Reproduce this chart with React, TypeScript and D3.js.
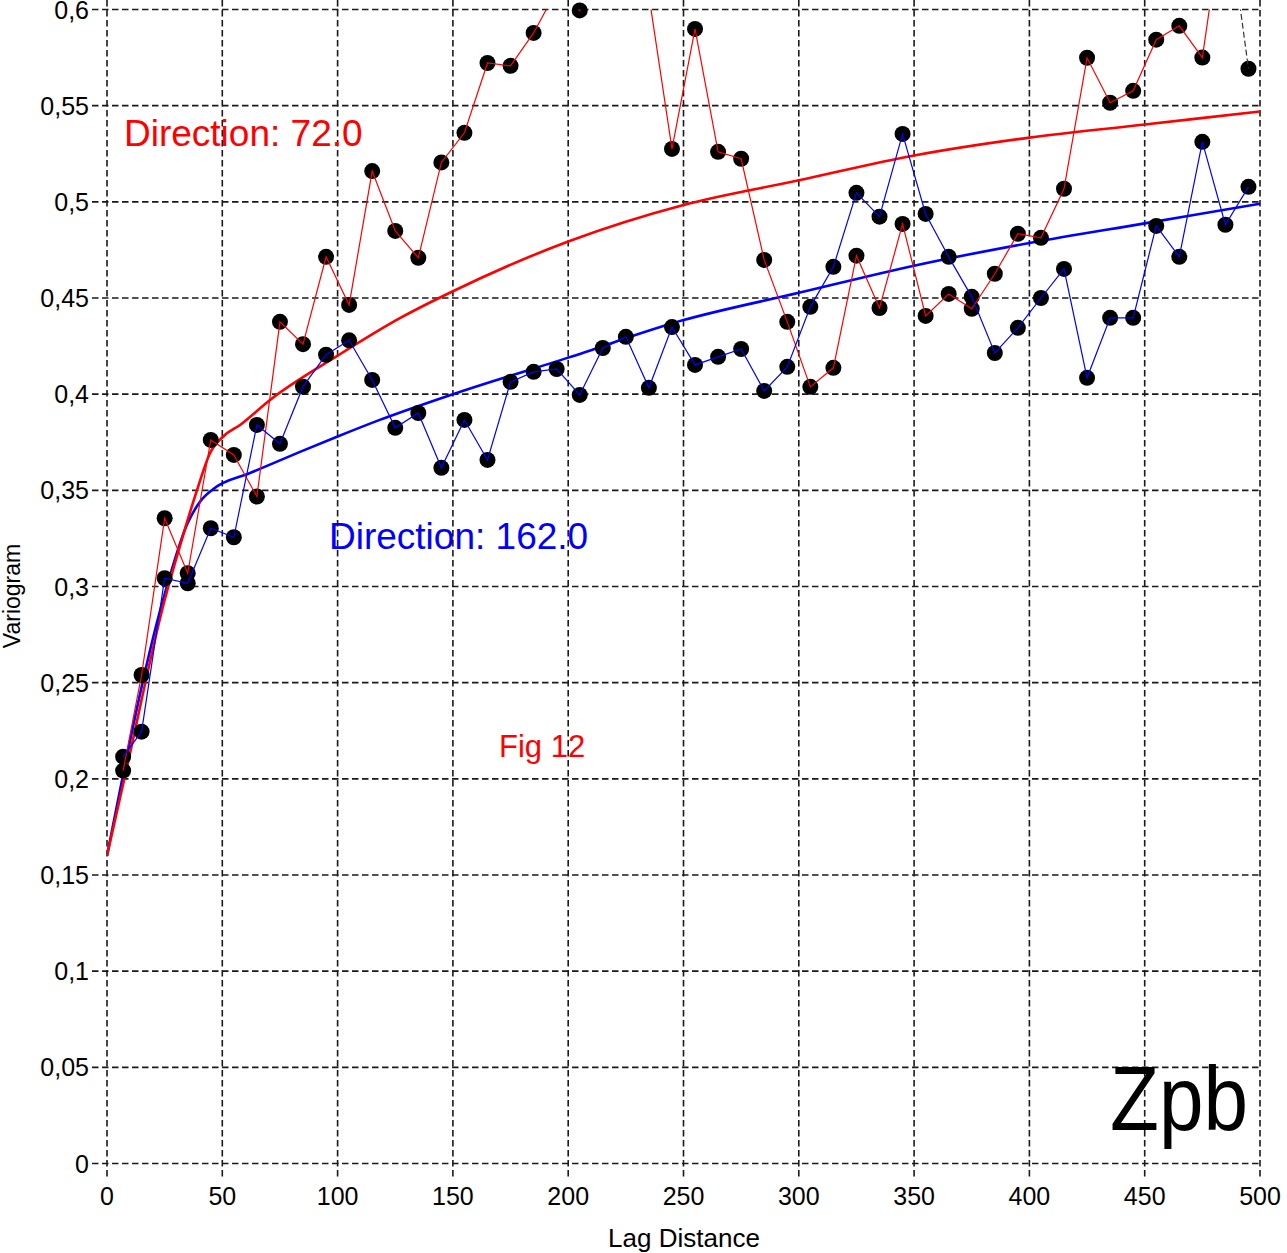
import React from "react";
import * as d3 from "d3";

const lags = [7, 15, 25, 35, 45, 55, 65, 75, 85, 95, 105, 115, 125, 135, 145, 155, 165, 175, 185, 195,
  205, 215, 225, 235, 245, 255, 265, 275, 285, 295, 305, 315, 325, 335, 345, 355, 365, 375, 385, 395,
  405, 415, 425, 435, 445, 455, 465, 475, 485, 495];

const dir72 = [0.2043, 0.254, 0.3355, 0.3069, 0.3762, 0.3684, 0.3468, 0.4376, 0.426, 0.4714,
  0.4464, 0.516, 0.4849, 0.4709, 0.5205, 0.5359, 0.5722, 0.5707, 0.5878, 0.61,
  0.5995, 0.63, 0.625, 0.6073, 0.5275, 0.5899, 0.526, 0.5224, 0.4698, 0.4376,
  0.4038, 0.4137, 0.472, 0.4448, 0.4885, 0.4407, 0.4521, 0.4444, 0.4626, 0.4834,
  0.4813, 0.5068, 0.5749, 0.5515, 0.5577, 0.5843, 0.5915, 0.575, 0.658, 0.5692];

const dir162 = [0.2115, 0.2245, 0.3043, 0.3017, 0.3303, 0.3256, 0.384, 0.3742, 0.4039, 0.4205,
  0.428, 0.4074, 0.3825, 0.3902, 0.3617, 0.3866, 0.3658, 0.4064, 0.4116, 0.4131,
  0.3996, 0.424, 0.4298, 0.4033, 0.4349, 0.4152, 0.4194, 0.4235, 0.4017, 0.4142,
  0.4454, 0.4662, 0.5047, 0.4923, 0.5353, 0.4937, 0.4714, 0.4506, 0.4214, 0.4345,
  0.45, 0.4651, 0.4085, 0.4397, 0.4397, 0.4875, 0.4714, 0.5312, 0.4881, 0.5078];

// model curves
const model72Lag = [0, 8, 25, 32, 39, 44.7, 50.4, 57.7, 70.7, 100, 127, 150, 200, 250, 300, 350, 400, 450, 500];
const model72Val = [0.16, 0.2026, 0.293, 0.3226, 0.35, 0.3694, 0.378, 0.384, 0.397, 0.42, 0.4395, 0.4535, 0.4794, 0.4984, 0.5112, 0.5241, 0.5334, 0.5402, 0.547];
const model162Lag = [0, 24.3, 35, 40.3, 46, 62, 83.7, 100, 118, 150, 200, 250, 300, 350, 400, 450, 500];
const model162Val = [0.16, 0.293, 0.333, 0.344, 0.3506, 0.359, 0.37, 0.378, 0.3865, 0.4, 0.419, 0.4385, 0.4527, 0.4668, 0.4786, 0.4888, 0.499];

const xTicks = [0, 50, 100, 150, 200, 250, 300, 350, 400, 450, 500];
const yTicks = [0, 0.05, 0.1, 0.15, 0.2, 0.25, 0.3, 0.35, 0.4, 0.45, 0.5, 0.55, 0.6];

const FONT = "'Liberation Sans', Arial, sans-serif";

export default function App() {
  const x = d3.scaleLinear().domain([0, 500]).range([107, 1260]);
  const y = d3.scaleLinear().domain([0, 0.6]).range([1163.5, 9.5]);

  const line = d3.line<[number, number]>().x(d => x(d[0])).y(d => y(d[1]));
  const curve = d3.line<[number, number]>().x(d => x(d[0])).y(d => y(d[1])).curve(d3.curveMonotoneX);

  const red: [number, number][] = lags.map((l, i) => [l, dir72[i]]);
  const blue: [number, number][] = lags.map((l, i) => [l, dir162[i]]);
  const redMain = red.slice(0, red.length - 1);
  const redLast = red.slice(red.length - 2);
  const m72: [number, number][] = model72Lag.map((l, i) => [l, model72Val[i]]);
  const m162: [number, number][] = model162Lag.map((l, i) => [l, model162Val[i]]);

  const fmt = (v: number) => String(+v.toFixed(2)).replace(".", ",");
  const grid = { stroke: "#1a1a1a", strokeWidth: 1.6, strokeDasharray: "6.5,3.5" };

  return (
    <svg width={1287} height={1253} style={{ position: "absolute", left: 0, top: 0, background: "#fff" }} fontFamily={FONT}>
      <defs>
        <clipPath id="plot">
          <rect x={107} y={9.5} width={1153} height={1154} />
        </clipPath>
      </defs>
      {yTicks.map(t => (
        <g key={"y" + t}>
          <line x1={92} x2={1260} y1={y(t)} y2={y(t)} {...grid} />
          <text x={89} y={y(t)} textAnchor="end" dominantBaseline="central" fontSize={25} fill="#000">{fmt(t)}</text>
        </g>
      ))}
      {xTicks.map(t => (
        <g key={"x" + t}>
          <line x1={x(t)} x2={x(t)} y1={0} y2={1178} {...grid} />
          <text x={x(t)} y={1205} textAnchor="middle" fontSize={25} fill="#000">{t}</text>
        </g>
      ))}
      <text x={684} y={1247} textAnchor="middle" fontSize={26} fill="#000">Lag Distance</text>
      <text transform="translate(20,596) rotate(-90)" textAnchor="middle" fontSize={23} fill="#000">Variogram</text>

      <g clipPath="url(#plot)">
        <path d={curve(m162) || ""} fill="none" stroke="#0000ff" strokeWidth={2.6} />
        <path d={curve(m72) || ""} fill="none" stroke="#ff0000" strokeWidth={2.6} />
      </g>
      {red.filter(d => d[1] <= 0.6).map(d => (
        <circle key={"r" + d[0]} cx={x(d[0])} cy={y(d[1])} r={8} fill="#000" />
      ))}
      {blue.filter(d => d[1] <= 0.6).map(d => (
        <circle key={"b" + d[0]} cx={x(d[0])} cy={y(d[1])} r={8} fill="#000" />
      ))}
      <g clipPath="url(#plot)">
        <path d={line(redMain) || ""} fill="none" stroke="#ff0000" strokeWidth={1.2} />
        <path d={line(redLast) || ""} fill="none" stroke="#333" strokeWidth={1.2} strokeDasharray="6,3" />
        <path d={line(blue) || ""} fill="none" stroke="#0000ff" strokeWidth={1.2} />
      </g>

      <text x={124} y={146} fontSize={37} fill="#ff0000">Direction: 72.0</text>
      <text x={329} y={549} fontSize={37} fill="#0000ff">Direction: 162.0</text>
      <text x={499} y={757} fontSize={31} fill="#ff0000">Fig 12</text>
      <text x={1110} y={1130} fontSize={90} fill="#000" textLength={138} lengthAdjust="spacingAndGlyphs">Zpb</text>
    </svg>
  );
}
